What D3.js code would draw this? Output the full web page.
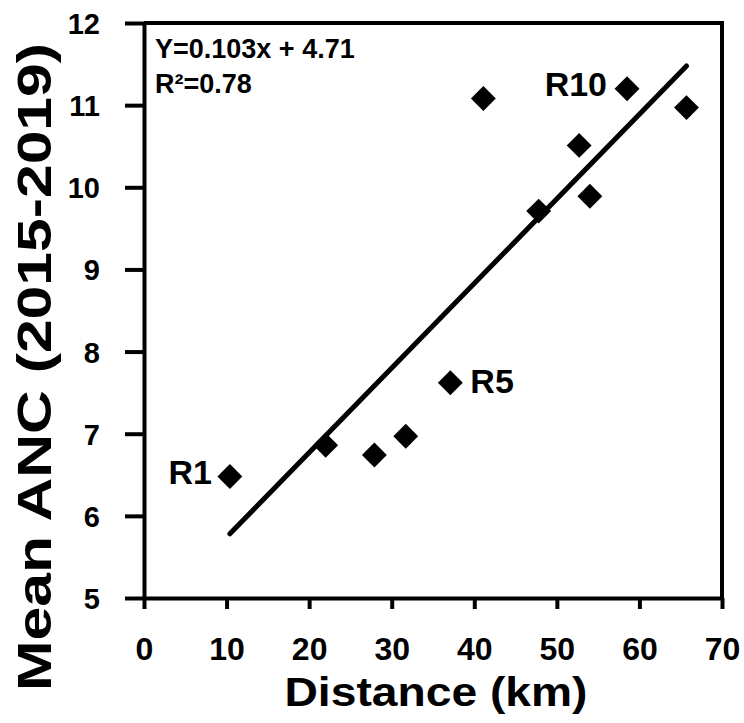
<!DOCTYPE html>
<html>
<head>
<meta charset="utf-8">
<script src="https://cdn.jsdelivr.net/npm/d3@7"></script>
<style>
  body { margin: 0; background: #fff; }
  text { font-family: "Liberation Sans", Arial, sans-serif; font-weight: bold; fill: #000; }
</style>
</head>
<body>
<div id="chart-area"></div>
<script>
// data
const distance = [10.4, 22.0, 27.9, 31.7, 37.1, 41.1, 47.8, 52.7, 54.0, 58.5, 65.7]
const meanAnc = [6.48, 6.86, 6.74, 6.97, 7.62, 11.08, 9.71, 10.51, 9.89, 11.20, 10.97]
const pointLabels = ["R1", "", "", "", "R5", "", "", "", "", "R10", ""]
const xTicks = [0, 10, 20, 30, 40, 50, 60, 70]
const yTicks = [5, 6, 7, 8, 9, 10, 11, 12]
const slope = 0.103
const intercept = 4.71
const fitText = ["Y=0.103x + 4.71", "R\u00B2=0.78"]

const MARGIN = { LEFT: 144, RIGHT: 22, TOP: 23, BOTTOM: 125 }
const WIDTH = 744 - MARGIN.LEFT - MARGIN.RIGHT
const HEIGHT = 723 - MARGIN.TOP - MARGIN.BOTTOM

const svg = d3.select("#chart-area").append("svg")
  .attr("width", 744)
  .attr("height", 723)

const g = svg.append("g")
  .attr("transform", `translate(${MARGIN.LEFT}, ${MARGIN.TOP})`)

// Scales
const x = d3.scaleLinear().domain([0, 70]).range([0, WIDTH])
const y = d3.scaleLinear().domain([5, 12]).range([HEIGHT, 0])

// top and right frame
g.append("path")
  .attr("d", `M0,0H${WIDTH}V${HEIGHT}`)
  .attr("fill", "none")
  .attr("stroke", "#000")
  .attr("stroke-width", 4)

// X Axis
const xAxis = g.append("g")
  .call(d3.axisBottom(x).tickValues(xTicks).tickFormat(d3.format("d"))
    .tickSize(11).tickSizeOuter(0))
  .attr("transform", `translate(0, ${HEIGHT})`)
xAxis.attr("font-size", 32).attr("font-family", null)
xAxis.selectAll("text")
  .attr("dy", 0)
  .attr("y", 62)

// Y Axis
const yAxis = g.append("g")
  .call(d3.axisLeft(y).tickValues(yTicks).tickFormat(d3.format("d"))
    .tickSize(19).tickSizeOuter(0).tickPadding(25))
yAxis.attr("font-size", 29).attr("font-family", null)
yAxis.selectAll("text")
  .attr("dy", "0.36em")

svg.selectAll(".domain, .tick line")
  .attr("stroke", "#000")
  .attr("stroke-width", 4)

// Labels
svg.append("text")
  .attr("x", 436)
  .attr("y", 706)
  .attr("font-size", "40px")
  .attr("text-anchor", "middle")
  .attr("textLength", 303)
  .attr("lengthAdjust", "spacingAndGlyphs")
  .text("Distance (km)")

svg.append("text")
  .attr("transform", "translate(51, 367) rotate(-90)")
  .attr("font-size", "49px")
  .attr("text-anchor", "middle")
  .attr("textLength", 648)
  .attr("lengthAdjust", "spacingAndGlyphs")
  .text("Mean ANC (2015-2019)")

// regression line over the data range
const xMin = d3.min(distance)
const xMax = d3.max(distance)
g.append("line")
  .attr("x1", x(xMin))
  .attr("y1", y(slope * xMin + intercept))
  .attr("x2", x(xMax))
  .attr("y2", y(slope * xMax + intercept))
  .attr("stroke", "#000")
  .attr("stroke-width", 5)
  .attr("stroke-linecap", "round")

// points
const data = distance.map((d, i) => ({ d: d, v: meanAnc[i], label: pointLabels[i] }))
const diamond = d3.symbol().type(d3.symbolSquare).size(310)
g.selectAll("path.pt")
  .data(data)
  .enter().append("path")
  .attr("class", "pt")
  .attr("d", diamond)
  .attr("fill", "#000")
  .attr("transform", p => `translate(${x(p.d)}, ${y(p.v)}) rotate(45)`)

// point labels
const labelPos = { R1: [-18, 8, "end"], R5: [20, 10, "start"], R10: [-20, 7, "end"] }
g.selectAll("text.pl")
  .data(data.filter(p => p.label))
  .enter().append("text")
  .attr("class", "pl")
  .attr("font-size", "34px")
  .attr("x", p => x(p.d) + labelPos[p.label][0])
  .attr("y", p => y(p.v) + labelPos[p.label][1])
  .attr("text-anchor", p => labelPos[p.label][2])
  .text(p => p.label)

// fit equation
g.selectAll("text.fit")
  .data(fitText)
  .enter().append("text")
  .attr("class", "fit")
  .attr("font-size", "27px")
  .attr("x", 11)
  .attr("y", (d, i) => 35 + i * 35)
  .text(d => d)
</script>
</body>
</html>
